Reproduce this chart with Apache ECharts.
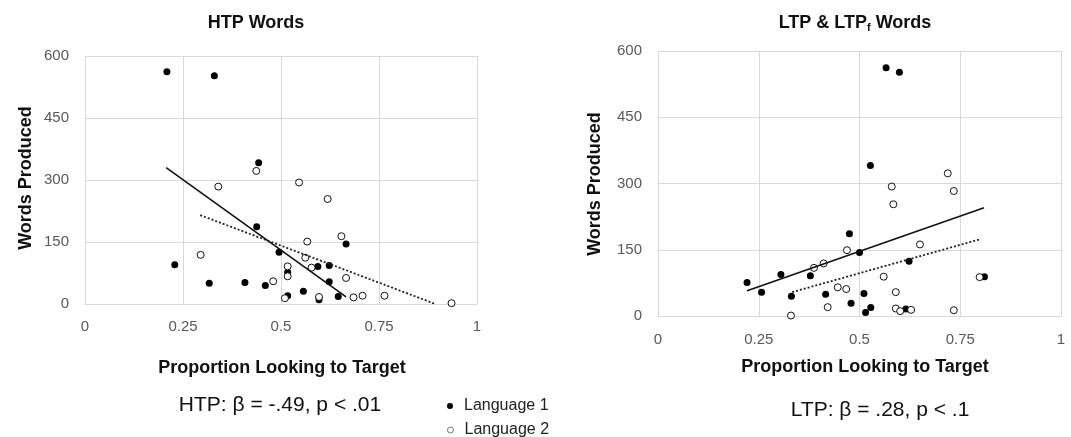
<!DOCTYPE html>
<html>
<head>
<meta charset="utf-8">
<script src="https://cdn.jsdelivr.net/npm/echarts@6/dist/echarts.min.js"></script>
<style>
html,body{margin:0;padding:0;background:#fff;}
#chart{width:1071px;height:437px;}
</style>
</head>
<body>
<div id="chart"></div>
<script>
// ---- data ----
var xTicks = [0, 0.25, 0.5, 0.75, 1];
var yTicks = [0, 150, 300, 450, 600];

var htpL1X = [0.209,0.330,0.443,0.438,0.495,0.666,0.229,0.317,0.408,0.460,0.517,0.594,0.623,0.623,0.557,0.517,0.597,0.646];
var htpL1Y = [562,552,342,187,125,145,95,50,52,45,77,91,93,54,31,20,10,18];
var htpL2X = [0.437,0.340,0.546,0.619,0.654,0.567,0.295,0.562,0.517,0.578,0.517,0.666,0.480,0.510,0.597,0.685,0.708,0.764,0.935];
var htpL2Y = [322,284,294,254,164,151,119,112,91,88,67,63,55,14,17,16,20,20,2];
var htpFit1X = [0.207, 0.666], htpFit1Y = [330, 17];
var htpFit2X = [0.294, 0.894], htpFit2Y = [215, 0];

var ltpL1X = [0.566,0.599,0.527,0.475,0.500,0.623,0.221,0.305,0.378,0.257,0.331,0.416,0.511,0.479,0.528,0.515,0.615,0.810];
var ltpL1Y = [562,552,341,186,144,124,76,94,91,54,45,49,51,29,19,8,16,89];
var ltpL2X = [0.719,0.580,0.734,0.584,0.650,0.469,0.411,0.387,0.560,0.798,0.446,0.467,0.590,0.421,0.590,0.601,0.628,0.734,0.330];
var ltpL2Y = [323,293,283,253,162,149,119,109,89,88,65,61,54,20,17,11,14,13,1];
var ltpFit1X = [0.221, 0.809], ltpFit1Y = [57, 245];
var ltpFit2X = [0.333, 0.800], ltpFit2Y = [54, 174];

var seriesNames = ['Language 1', 'Language 2'];

function zip(xs, ys){ return xs.map(function(x,i){ return [x, ys[i]]; }); }

var gridColor = '#d9d9d9';
var labelColor = '#595959';
var font = 'Liberation Sans, Arial, Helvetica, sans-serif';

function xAxis(idx){
  return {
    type:'value', gridIndex: idx, min: xTicks[0], max: xTicks[xTicks.length-1], interval: xTicks[1]-xTicks[0],
    axisLine:{show:true, lineStyle:{color:gridColor}},
    axisTick:{show:false},
    splitLine:{show:true, lineStyle:{color:gridColor, width:1}},
    axisLabel:{color:labelColor, fontSize:15, fontFamily:font, margin: idx===0 ? 15 : 16,
      formatter:function(v){ return String(v); }}
  };
}
function yAxis(idx){
  return {
    type:'value', gridIndex: idx, min: yTicks[0], max: yTicks[yTicks.length-1], interval: yTicks[1]-yTicks[0],
    axisLine:{show:true, lineStyle:{color:gridColor}},
    axisTick:{show:false},
    splitLine:{show:true, lineStyle:{color:gridColor, width:1}},
    axisLabel:{color:labelColor, fontSize:15, fontFamily:font, margin:16}
  };
}

var filledStyle = {color:'#000', borderColor:'#000', borderWidth:0, opacity:1};
var openStyle = {color:'#fff', borderColor:'#111', borderWidth:1, opacity:1};

function scatter(name, idx, xs, ys, style){
  return {name:name, type:'scatter', xAxisIndex:idx, yAxisIndex:idx, data:zip(xs,ys),
    symbol:'circle', symbolSize:7, itemStyle:style, silent:true, z:3};
}
function fit(idx, xs, ys, dashed){
  return {type:'line', xAxisIndex:idx, yAxisIndex:idx, data:zip(xs,ys), symbol:'none', silent:true, z:4,
    lineStyle:{color: dashed ? '#222' : '#111', width: dashed ? 1.8 : 1.6, type: dashed ? [2,2] : 'solid', opacity:1}};
}

function legendFor(item, top){
  return {data:[item], left:442, top:top, itemWidth:6, itemHeight:6, icon:'circle',
    textStyle:{fontFamily:font, fontSize:16, color:'#222', padding:[0,0,0,6]}};
}

var option = {
  animation:false,
  backgroundColor:'#fff',
  title:[
    {text:'HTP Words', left:251, top:9, textAlign:'center',
      textStyle:{fontFamily:font, fontWeight:'bold', fontSize:18, color:'#111'}},
    {text:'{a|LTP & LTP}{s|f}{a| Words}', left:850, top:9, textAlign:'center',
      textStyle:{rich:{
        a:{fontFamily:font, fontWeight:'bold', fontSize:18, color:'#111'},
        s:{fontFamily:font, fontWeight:'bold', fontSize:11, color:'#111', verticalAlign:'bottom', padding:[8,0,0,0]}
      }}}
  ],
  legend:[
    legendFor({name:seriesNames[0]}, 393),
    legendFor({name:seriesNames[1], itemStyle:{color:'#fff', borderColor:'#777', borderWidth:1}}, 417)
  ],
  grid:[
    {left:85, right:594, top:56, bottom:133},
    {left:658, right:10, top:51, bottom:121}
  ],
  xAxis:[xAxis(0), xAxis(1)],
  yAxis:[yAxis(0), yAxis(1)],
  series:[
    scatter(seriesNames[0], 0, htpL1X, htpL1Y, filledStyle),
    scatter(seriesNames[1], 0, htpL2X, htpL2Y, openStyle),
    fit(0, htpFit1X, htpFit1Y, false),
    fit(0, htpFit2X, htpFit2Y, true),
    scatter('ltp1', 1, ltpL1X, ltpL1Y, filledStyle),
    scatter('ltp2', 1, ltpL2X, ltpL2Y, openStyle),
    fit(1, ltpFit1X, ltpFit1Y, false),
    fit(1, ltpFit2X, ltpFit2Y, true)
  ],
  graphic:[
    {type:'text', x:26, y:178, rotation:Math.PI/2, style:{text:'Words Produced', x:0, y:0, textAlign:'center', textVerticalAlign:'middle', font:'bold 18px ' + font, fill:'#111'}},
    {type:'text', x:595, y:184, rotation:Math.PI/2, style:{text:'Words Produced', x:0, y:0, textAlign:'center', textVerticalAlign:'middle', font:'bold 18px ' + font, fill:'#111'}},
    {type:'text', x:282, y:368, style:{text:'Proportion Looking to Target', textAlign:'center', textVerticalAlign:'middle', font:'bold 18px ' + font, fill:'#111'}},
    {type:'text', x:865, y:367, style:{text:'Proportion Looking to Target', textAlign:'center', textVerticalAlign:'middle', font:'bold 18px ' + font, fill:'#111'}},
    {type:'text', x:280, y:405, style:{text:'HTP: β = -.49, p < .01', textAlign:'center', textVerticalAlign:'middle', font:'21px ' + font, fill:'#111'}},
    {type:'text', x:880, y:410, style:{text:'LTP: β = .28, p < .1', textAlign:'center', textVerticalAlign:'middle', font:'21px ' + font, fill:'#111'}}
  ]
};

var chart = echarts.init(document.getElementById('chart'), null, {renderer:'canvas'});
chart.setOption(option);
</script>
</body>
</html>
